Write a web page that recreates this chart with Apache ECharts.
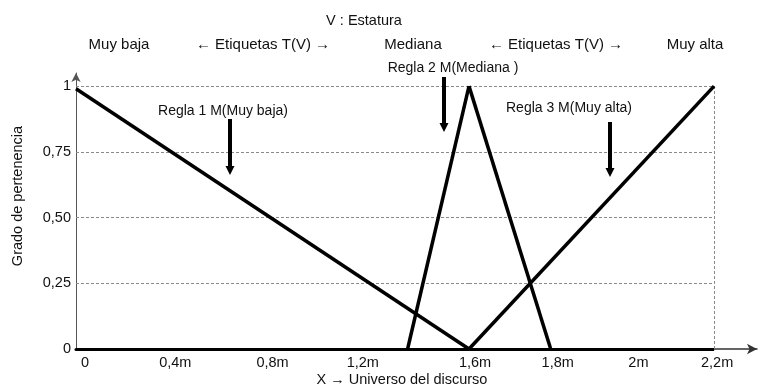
<!DOCTYPE html>
<html>
<head>
<meta charset="utf-8">
<script src="https://cdn.jsdelivr.net/npm/echarts@6/dist/echarts.min.js"></script>
<style>
html,body{margin:0;padding:0;background:#fff;}
#chart{width:766px;height:391px;}
</style>
</head>
<body>
<div id="chart"></div>
<script>
// ---- data ----
const yTickValues = [0, 0.25, 0.5, 0.75, 1];
const yTickLabels = ['0', '0,25', '0,50', '0,75', '1'];
const xTickValues = [0, 0.4, 0.8, 1.2, 1.6, 1.8, 2, 2.2];
const xTickLabels = ['0', '0,4m', '0,8m', '1,2m', '1,6m', '1,8m', '2m', '2,2m'];
const muyBaja = [[0, 0.99], [1.6, 0]];
const mediana = [[1.35, 0], [1.6, 1], [1.8, 0]];
const muyAlta = [[1.6, 0], [2.2, 1]];
const titleText = 'V : Estatura';
const etiquetas = ['Muy baja', '← Etiquetas T(V) →', 'Mediana', '← Etiquetas T(V) →', 'Muy alta'];
const reglas = ['Regla 1 M(Muy baja)', 'Regla 2 M(Mediana )', 'Regla 3 M(Muy alta)'];
const xName = 'X → Universo del discurso';
const yName = 'Grado de pertenencia';

// layout: the drawing uses a different horizontal scale left and right of 1,6 m
const xBreak = 1.6;
const xEnd = 2.2;
// layout: small horizontal nudges (px) of the x tick labels as placed in the drawing
const xLabelNudge = [9, 1, 0, -8, 6, 7, 6, 3];

const FONT = '"Liberation Sans", Arial, sans-serif';
const chart = echarts.init(document.getElementById('chart'), null, {renderer: 'canvas'});

const xRich = {};
xLabelNudge.forEach((n, i) => {
  xRich['n' + i] = {
    color: '#111', fontSize: 14.5, fontFamily: FONT,
    padding: n >= 0 ? [0, 0, 0, 2 * n] : [0, -2 * n, 0, 0]
  };
});

function fmtX(v, allowBreak) {
  const r = Math.round(v * 10) / 10;
  if (Math.abs(v - r) > 1e-6) return '';
  if (!allowBreak && r === xBreak) return '';
  const i = xTickValues.findIndex(t => Math.abs(t - r) < 1e-6);
  return i >= 0 ? '{n' + i + '|' + xTickLabels[i] + '}' : '';
}
function fmtY(v) {
  const i = yTickValues.findIndex(t => Math.abs(t - v) < 1e-6);
  return i >= 0 ? yTickLabels[i] : '';
}

const gridStyle = {type: [3, 2], color: '#8a8a8a', width: 1};
const lineStyle = {color: '#000', width: 3.5};

const leftGrid = yTickValues.filter(v => v > 0).map(v => [{coord: [0, v]}, {coord: [xBreak, v]}]);
const rightGrid = yTickValues.filter(v => v > 0).map(v => [{coord: [xBreak, v]}, {coord: [xEnd, v]}]);
rightGrid.push([{coord: [xEnd, 0]}, {coord: [xEnd, 1]}]);
rightGrid.push([{coord: [xBreak, 0], lineStyle: {type: 'solid', color: '#000', width: 3}}, {coord: [xEnd, 0]}]);

const option = {
  animation: false,
  backgroundColor: '#fff',
  grid: [
    {left: 76, top: 73, width: 393, height: 276},
    {left: 469, top: 73, width: 288, height: 276}
  ],
  xAxis: [
    {
      type: 'value', gridIndex: 0, min: 0, max: xBreak, interval: 0.4,
      axisLine: {show: true, lineStyle: {color: '#000', width: 3}},
      axisTick: {show: false}, splitLine: {show: false},
      axisLabel: {margin: 6, formatter: v => fmtX(v, true), rich: xRich, color: '#111', fontSize: 14.5, fontFamily: FONT}
    },
    {
      type: 'value', gridIndex: 1, min: xBreak, max: 2.305, interval: 0.2,
      axisLine: {show: true, symbol: ['none', 'arrow'], symbolSize: [8, 10], lineStyle: {color: '#333', width: 1.5}},
      axisTick: {show: false}, splitLine: {show: false},
      axisLabel: {margin: 6, showMaxLabel: false, formatter: v => fmtX(v, false), rich: xRich, color: '#111', fontSize: 14.5, fontFamily: FONT}
    }
  ],
  yAxis: [
    {
      type: 'value', gridIndex: 0, min: 0, max: 1.05, interval: 0.25,
      axisLine: {show: true, symbol: ['none', 'arrow'], symbolSize: [7, 9], lineStyle: {color: '#555', width: 1}},
      axisTick: {show: false}, splitLine: {show: false},
      axisLabel: {margin: 5, showMaxLabel: false, formatter: fmtY, color: '#111', fontSize: 14.5, fontFamily: FONT}
    },
    {
      type: 'value', gridIndex: 1, min: 0, max: 1.05, interval: 0.25, show: false,
      splitLine: {show: false}
    }
  ],
  series: [
    {
      type: 'line', name: 'Muy baja', xAxisIndex: 0, yAxisIndex: 0, data: muyBaja,
      symbol: 'none', lineStyle: lineStyle, clip: false, z: 5,
      markLine: {silent: true, symbol: ['none', 'none'], label: {show: false}, lineStyle: gridStyle, data: leftGrid, z: 1}
    },
    {
      type: 'line', name: 'Mediana', xAxisIndex: 0, yAxisIndex: 0,
      data: mediana.filter(p => p[0] <= xBreak),
      symbol: 'none', lineStyle: lineStyle, clip: false, z: 5
    },
    {
      type: 'line', name: 'Mediana', xAxisIndex: 1, yAxisIndex: 1,
      data: mediana.filter(p => p[0] >= xBreak),
      symbol: 'none', lineStyle: lineStyle, clip: false, z: 5
    },
    {
      type: 'line', name: 'Muy alta', xAxisIndex: 1, yAxisIndex: 1, data: muyAlta,
      symbol: 'none', lineStyle: lineStyle, clip: false, z: 5,
      markLine: {silent: true, symbol: ['none', 'none'], label: {show: false}, lineStyle: gridStyle, data: rightGrid, z: 1}
    }
  ],
  graphic: []
};

function txt(text, x, y, size, rot) {
  return {
    type: 'text', x: x, y: y, rotation: rot || 0, silent: true, z: 10,
    style: {text: text, fill: '#111', fontSize: size, fontFamily: FONT,
      align: 'center', verticalAlign: 'middle', textAlign: 'center', textVerticalAlign: 'middle'}
  };
}
function downArrow(x, top, tip) {
  return {
    type: 'polygon', silent: true, z: 10,
    shape: {points: [[x - 2, top], [x + 2, top], [x + 2, tip - 9], [x + 4.5, tip - 9], [x, tip], [x - 4.5, tip - 9], [x - 2, tip - 9]]},
    style: {fill: '#000'}
  };
}

const etqX = [119, 263, 413, 556, 695];
option.graphic.push(txt(titleText, 364, 21, 14.5));
etiquetas.forEach((t, i) => option.graphic.push(txt(t, etqX[i], 45, 15)));
option.graphic.push(txt(reglas[0], 223, 111, 14));
option.graphic.push(txt(reglas[1], 453, 68, 14));
option.graphic.push(txt(reglas[2], 569, 108, 14));
option.graphic.push(downArrow(230, 119, 175));
option.graphic.push(downArrow(444, 77, 132));
option.graphic.push(downArrow(610, 122, 177));
option.graphic.push(txt(xName, 402, 380, 14.5));
option.graphic.push(txt(yName, 18, 196, 14.5, Math.PI / 2));

chart.setOption(option);
</script>
</body>
</html>
